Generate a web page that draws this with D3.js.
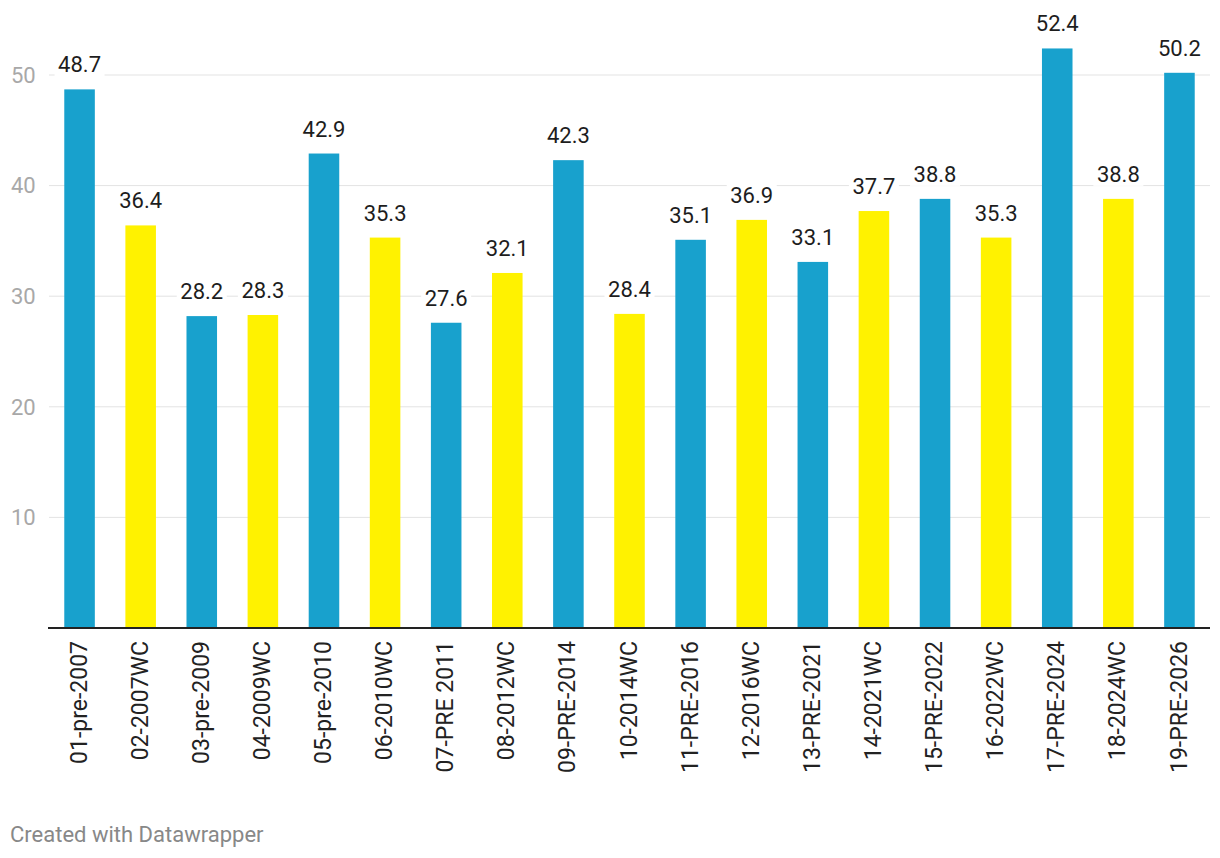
<!DOCTYPE html>
<html>
<head>
<meta charset="utf-8">
<script src="https://cdn.jsdelivr.net/npm/d3@7"></script>
<style>
  body { margin: 0; background: #fff; font-family: Roboto, sans-serif; }
</style>
</head>
<body>
<div id="chart"></div>
<script>
const categories = ["01-pre-2007", "02-2007WC", "03-pre-2009", "04-2009WC", "05-pre-2010",
  "06-2010WC", "07-PRE 2011", "08-2012WC", "09-PRE-2014", "10-2014WC", "11-PRE-2016",
  "12-2016WC", "13-PRE-2021", "14-2021WC", "15-PRE-2022", "16-2022WC", "17-PRE-2024",
  "18-2024WC", "19-PRE-2026"];
const values = [48.7, 36.4, 28.2, 28.3, 42.9, 35.3, 27.6, 32.1, 42.3, 28.4, 35.1,
  36.9, 33.1, 37.7, 38.8, 35.3, 52.4, 38.8, 50.2];
const groups = ["pre", "wc", "pre", "wc", "pre", "wc", "pre", "wc", "pre", "wc", "pre",
  "wc", "pre", "wc", "pre", "wc", "pre", "wc", "pre"];
const yTicks = [10, 20, 30, 40, 50];

const W = 1220, H = 858;
const plotLeft = 49, plotRight = 1210, plotBottom = 628;
const BLUE = "#18a1cd", YELLOW = "#fff200";

const svg = d3.select("#chart").append("svg").attr("width", W).attr("height", H);

const x = d3.scaleBand().domain(categories).range([plotLeft, plotRight]).paddingInner(0.5).paddingOuter(0.25);
const y = d3.scaleLinear().domain([0, 50]).range([plotBottom, plotBottom - 50 * 11.06]);

// grid lines
svg.append("g").selectAll("line").data(yTicks).join("line")
  .attr("x1", plotLeft).attr("x2", plotRight)
  .attr("y1", d => y(d)).attr("y2", d => y(d))
  .attr("stroke", "#e3e3e3").attr("stroke-width", 1);

svg.append("g").selectAll("text").data(yTicks).join("text")
  .attr("x", 11).attr("y", d => y(d)).attr("dy", "0.35em")
  .attr("font-size", 22).attr("fill", "#a8a8a8")
  .text(d => d);

// bars
svg.append("g").selectAll("rect").data(values).join("rect")
  .attr("x", (d, i) => x(categories[i]))
  .attr("width", x.bandwidth())
  .attr("y", d => y(d))
  .attr("height", d => y(0) - y(d))
  .attr("fill", (d, i) => groups[i] === "pre" ? BLUE : YELLOW);

// value labels with white backing
const lab = svg.append("g").selectAll("g").data(values).join("g")
  .attr("transform", (d, i) => `translate(${x(categories[i]) + x.bandwidth() / 2},${y(d) - 17})`);
lab.append("rect")
  .attr("x", -25).attr("y", -19).attr("width", 50).attr("height", 23).attr("fill", "#fff");
lab.append("text")
  .attr("text-anchor", "middle").attr("font-size", 22).attr("fill", "#1d1d1d")
  .text(d => d.toFixed(1));

// baseline
svg.append("line")
  .attr("x1", plotLeft - 1).attr("x2", plotRight)
  .attr("y1", y(0)).attr("y2", y(0))
  .attr("stroke", "#222").attr("stroke-width", 2);

// x axis labels
const xAxis = d3.axisBottom(x).tickSize(0);
const gx = svg.append("g").attr("transform", `translate(0,${y(0)})`).call(xAxis);
gx.select(".domain").remove();
gx.selectAll(".tick text")
  .attr("font-family", "Roboto, sans-serif")
  .attr("font-size", 23).attr("fill", "#222")
  .attr("transform", "rotate(-90)")
  .attr("text-anchor", "end")
  .attr("x", -13).attr("y", -1).attr("dy", "0.35em");

svg.append("text")
  .attr("x", 10).attr("y", 842)
  .attr("font-size", 22).attr("fill", "#888")
  .text("Created with Datawrapper");
</script>
</body>
</html>
